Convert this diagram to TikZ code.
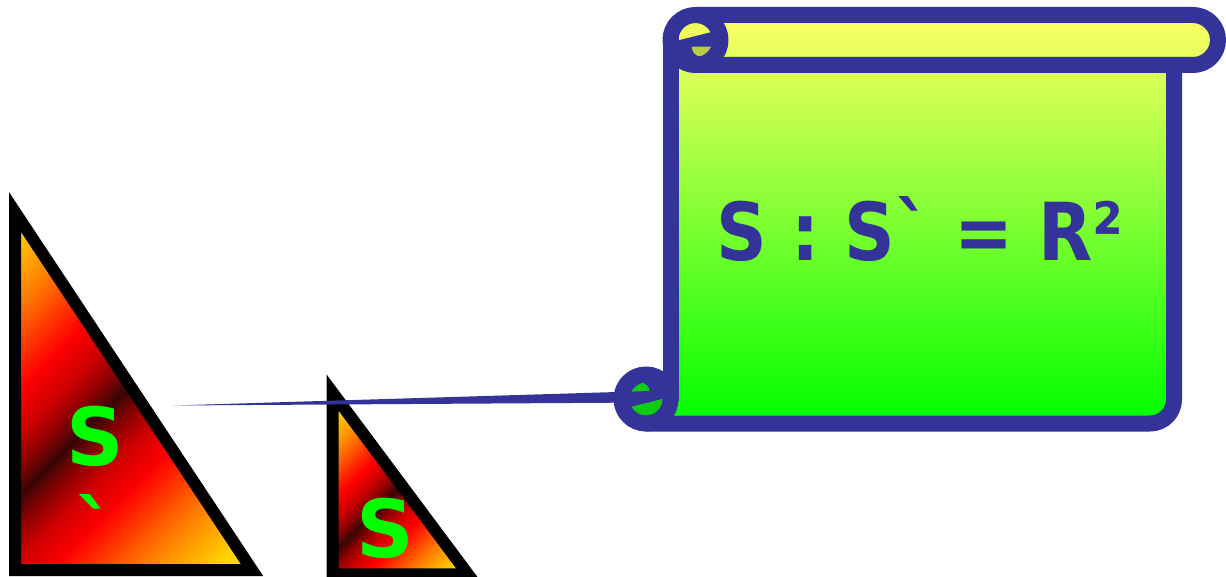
\documentclass[tikz,border=0pt]{standalone}
\usepackage{fontspec}
\setmainfont{DejaVu Sans}[Ligatures=TeXOff]
\newfontfamily\narrowdv{DejaVu Sans}[Ligatures=TeXOff, FakeStretch=0.88]
\definecolor{sB}{HTML}{333399}
\definecolor{tG}{HTML}{00FF00}
\definecolor{tY}{HTML}{FFD400}
\definecolor{tO}{HTML}{FF7A00}
\definecolor{tR}{HTML}{FF0000}
\definecolor{tR2}{HTML}{D00000}
\definecolor{tR3}{HTML}{8A0000}
\definecolor{tD}{HTML}{3A0505}
\definecolor{scT}{HTML}{FFFF66}
\definecolor{scB}{HTML}{00FF00}
\definecolor{rollL}{HTML}{F0FA5E}
\definecolor{rollD}{HTML}{BCCC48}
\definecolor{curlG}{HTML}{12CC12}
\pgfdeclarehorizontalshading{trishade}{100bp}{color(0bp)=(tY); color(25bp)=(tY); color(28.4bp)=(tY); color(34.66bp)=(tO); color(41.48bp)=(tR); color(44.89bp)=(tR2); color(47.73bp)=(tR3); color(50bp)=(tD); color(52.27bp)=(tR3); color(55.11bp)=(tR2); color(58.52bp)=(tR); color(65.34bp)=(tO); color(71.6bp)=(tY); color(75bp)=(tY); color(100bp)=(tY)}
\begin{document}
\begin{tikzpicture}[x=1pt,y=1pt]
\tikzset{
  triline/.style={draw=black, line width=12pt, line join=miter, miter limit=10},
  scrollline/.style={draw=sB, line width=16pt, line join=round, line cap=round},
  lbl/.style={font=\fontsize{80}{93}\selectfont\bfseries, text=tG, inner sep=0pt},
}
\useasboundingbox (0,-577) rectangle (1226,0);

% big triangle
\coordinate (bA) at (15,-212);
\coordinate (bB) at (15,-570);
\coordinate (bC) at (252,-570);
\begin{scope}
  \clip (bA) -- (bB) -- (bC) -- cycle;
  \shade[shading=trishade, transform canvas={rotate around={-45:(72,-443)}}] (-148,-743) rectangle (292,-143);
\end{scope}
\draw[triline] (bA) -- (bB) -- (bC) -- cycle;
\node[lbl, anchor=base, align=center] (sbig) at (95,-558) {S\\`};

% small triangle
\coordinate (sA) at (332.5,-392.5);
\coordinate (sBt) at (332.5,-574.3);
\coordinate (sC) at (468,-574.3);
\begin{scope}
  \clip (sA) -- (sBt) -- (sC) -- cycle;
  \shade[shading=trishade, transform canvas={rotate around={-45:(369,-517)}}] (259,-667) rectangle (479,-367);
\end{scope}
\draw[triline] (sA) -- (sBt) -- (sC) -- cycle;
\node[lbl, anchor=base] (ssmall) at (385.5,-557) {S};

% scroll fills
\begin{scope}
  \clip (670.5,-40) -- (1174,-40) -- (1174,-399.5) arc[start angle=0,end angle=-90,radius=24] -- (670.5,-423.5) -- cycle;
  \shade[top color=scT, bottom color=scB] (600,-15) rectangle (1226,-423.5);
\end{scope}
\begin{scope}
  \clip (695.5,-15) -- (1193,-15) arc[start angle=90,end angle=-90,radius=25] -- (695.5,-65) arc[start angle=270,end angle=90,radius=25] -- cycle;
  \shade[top color=scT, bottom color=scB] (600,-15) rectangle (1226,-423.5);
\end{scope}

% top curl interior
\begin{scope}[shift={(695.5,-40)}]
  \fill[sB] (0,0) circle (17.5);
  \begin{scope}
    \clip (0,0) circle (17.5);
    \fill[rollL] (-18,18) -- (-18,-0.5) -- (18,8.5) -- (18,18) -- cycle;
    \fill[rollD] (-3.8,-6.7) arc[start angle=180,end angle=360,radius=10] -- cycle;
  \end{scope}
\end{scope}
% bottom curl interior
\begin{scope}[shift={(646,-399)}, rotate=180]
  \fill[sB] (0,0) circle (17);
  \begin{scope}
    \clip (0,0) circle (17);
    \fill[curlG] (-18,18) -- (-18,-0.5) -- (18,8.5) -- (18,18) -- cycle;
    \fill[curlG] (-3.8,-6.7) arc[start angle=180,end angle=360,radius=10] -- cycle;
  \end{scope}
\end{scope}

% scroll outlines
\draw[scrollline] (670.5,-40) -- (670.5,-399);
\draw[scrollline] (646,-423.5) -- (1150,-423.5) arc[start angle=270,end angle=360,radius=24] -- (1174,-65);
\draw[scrollline] (695.5,-15) -- (1193,-15) arc[start angle=90,end angle=-90,radius=25] -- (695.5,-65);
\draw[scrollline] (695.5,-40) circle (25);
\draw[scrollline] (646,-399) circle (24.5);

% callout wedge
\coordinate (wtip) at (173,-405.5);
\coordinate (wtop) at (650,-391);
\coordinate (wbot) at (650,-402.5);
\fill[sB] (wtip) -- (wtop) -- (wbot) -- cycle;

% scroll text
\node[lbl, text=sB, anchor=base, font=\fontsize{80}{93}\selectfont\narrowdv\bfseries] (eq) at (920,-261) {S : S` = R²};
\end{tikzpicture}
\end{document}
